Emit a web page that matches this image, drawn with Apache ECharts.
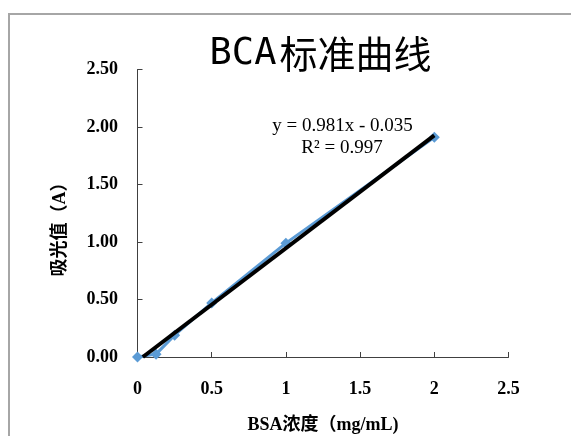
<!DOCTYPE html>
<html><head><meta charset="utf-8">
<script src="https://cdn.jsdelivr.net/npm/echarts@6/dist/echarts.min.js"></script>
<style>html,body{margin:0;padding:0;background:#fff}#c{width:571px;height:436px}</style>
</head><body><div id="c"></div>
<script>
var concentration = [0, 0.125, 0.25, 0.5, 1, 2];
var absorbance = [0, 0.025, 0.19, 0.47, 0.99, 1.91];
var trendX = [0.036, 2];
var trendY = [0, 1.927];
var xTicks = ['0', '0.5', '1', '1.5', '2', '2.5'];
var yTicks = ['0.00', '0.50', '1.00', '1.50', '2.00', '2.50'];
var equationText = 'y = 0.981x - 0.035';
var r2Text = 'R² = 0.997';

var chart = echarts.init(document.getElementById('c'), null, {renderer: 'canvas'});
var serif = '"Liberation Serif", "Noto Sans CJK SC", serif';
chart.setOption({
  animation: false,
  backgroundColor: '#fff',
  title: {
    text: '{a|BCA}{b|标准曲线}',
    left: 315.5, top: 30, textAlign: 'center',
    textStyle: {
      fontWeight: 'normal',
      rich: {
        a: {fontFamily: '"DejaVu Sans Mono", monospace', fontWeight: 'normal', fontSize: 37, color: '#000', padding: [0, 3, 0, 0]},
        b: {fontFamily: '"Noto Sans CJK SC"', fontWeight: 'normal', fontSize: 38, color: '#000'}
      }
    }
  },
  grid: {left: 137.5, right: 62.5, top: 69.5, bottom: 79, containLabel: false, outerBoundsMode: 'none'},
  xAxis: {
    type: 'value', min: 0, max: 2.5, interval: 0.5,
    axisLine: {show: true, lineStyle: {color: '#404040', width: 1}},
    axisTick: {show: true, inside: true, length: 5, lineStyle: {color: '#404040'}},
    splitLine: {show: false},
    axisLabel: {margin: 23, fontFamily: serif, fontWeight: 'bold', fontSize: 18, color: '#000',
      formatter: function (v) { return xTicks[Math.round(v / 0.5)]; }},
    name: 'BSA浓度（mg/mL)', nameLocation: 'middle', nameGap: 59,
    nameTextStyle: {fontFamily: serif, fontWeight: 'bold', fontSize: 18, color: '#000'}
  },
  yAxis: {
    type: 'value', min: 0, max: 2.5, interval: 0.5,
    axisLine: {show: true, lineStyle: {color: '#404040', width: 1}},
    axisTick: {show: true, inside: true, length: 5, lineStyle: {color: '#404040'}},
    splitLine: {show: false},
    axisLabel: {margin: 19.5, fontFamily: serif, fontWeight: 'bold', fontSize: 18, color: '#000',
      formatter: function (v) { return yTicks[Math.round(v / 0.5)]; }}
  },
  graphic: [
    {type: 'rect', shape: {x: 9, y: 14, width: 700, height: 600}, style: {fill: 'none', stroke: '#a6a6a6', lineWidth: 2}, silent: true, z: 100},
    {type: 'text', x: 60, y: 225, rotation: Math.PI / 2,
      style: {text: '吸光值（A）', fontFamily: serif, fontWeight: 'bold', fontSize: 18, fill: '#000', align: 'center', verticalAlign: 'middle'}},
    {type: 'text', x: 342.5, y: 126, style: {text: equationText, fontFamily: serif, fontSize: 19, fill: '#000', align: 'center', verticalAlign: 'middle'}},
    {type: 'text', x: 342, y: 148, style: {text: r2Text, fontFamily: serif, fontSize: 19, fill: '#000', align: 'center', verticalAlign: 'middle'}}
  ],
  series: [
    {
      type: 'line',
      data: concentration.map(function (x, i) { return [x, absorbance[i]]; }),
      symbol: 'diamond', symbolSize: 11, showAllSymbol: true,
      lineStyle: {color: '#5B9BD5', width: 3},
      itemStyle: {color: '#5B9BD5'},
      clip: false, z: 2
    },
    {
      type: 'line',
      data: trendX.map(function (x, i) { return [x, trendY[i]]; }),
      symbol: 'none',
      lineStyle: {color: '#000', width: 4},
      z: 3
    }
  ]
});
</script></body></html>
